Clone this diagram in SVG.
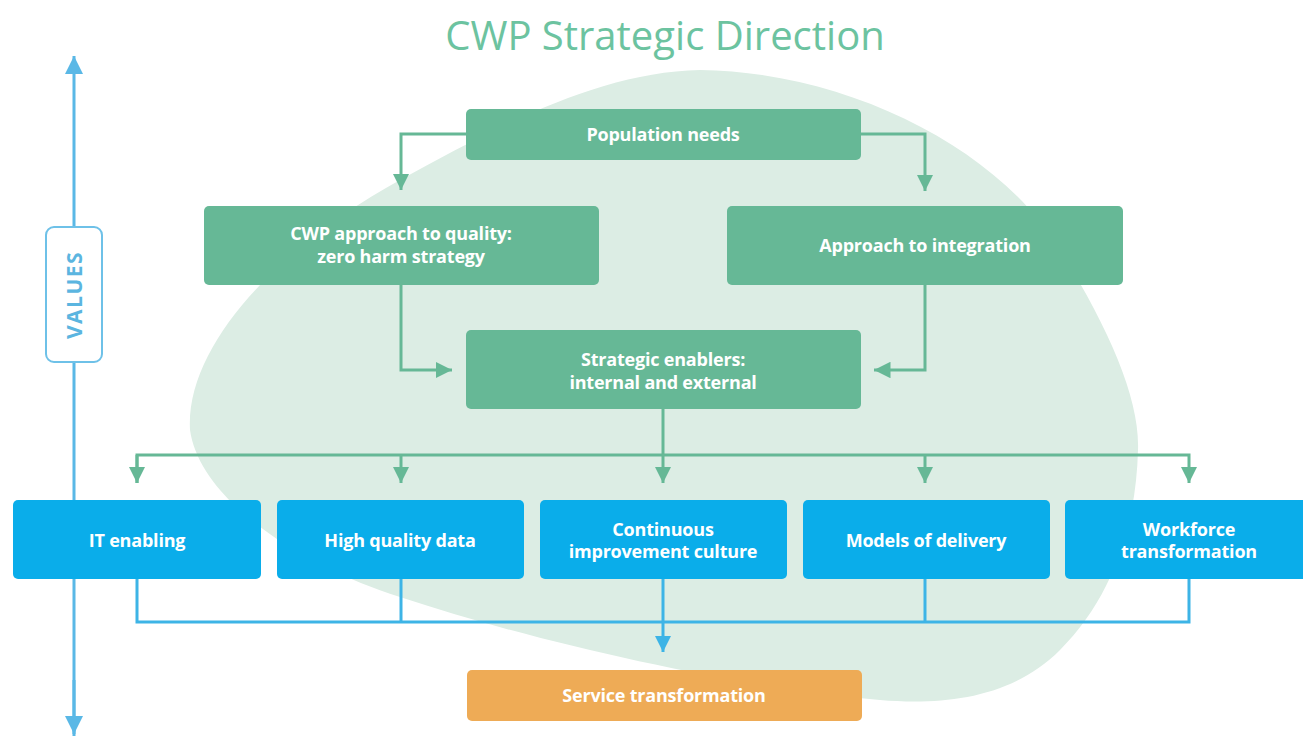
<svg xmlns="http://www.w3.org/2000/svg" width="1303" height="736" viewBox="0 0 1303 736">
<defs>
<style>
.g{fill:#66b896}
.b{fill:#0aadea}
.o{fill:#eeab56}
.t{font-family:"Open Sans","Noto Sans",sans-serif;font-weight:700;font-size:18px;fill:#fff;text-anchor:middle;letter-spacing:-0.2px}
.gc{fill:none;stroke:#66b896;stroke-width:3}
.bc{fill:none;stroke:#3db4e6;stroke-width:3}
</style>
<marker id="ga" viewBox="0 0 10 10" refX="10" refY="5" markerWidth="5.5" markerHeight="5.5" markerUnits="strokeWidth" orient="auto"><path d="M0,0 L10,5 L0,10 Z" fill="#66b896"/></marker>
<marker id="ba" viewBox="0 0 10 10" refX="10" refY="5" markerWidth="5.5" markerHeight="5.5" markerUnits="strokeWidth" orient="auto"><path d="M0,0 L10,5 L0,10 Z" fill="#3db4e6"/></marker>
<marker id="va" viewBox="0 0 10 10" refX="10" refY="5" markerWidth="6" markerHeight="6" markerUnits="strokeWidth" orient="auto"><path d="M0,0 L10,5 L0,10 Z" fill="#5ab8e6"/></marker>
</defs>
<rect width="1303" height="736" fill="#fff"/>
<path id="blob" d="M700,70 C850,72 1000,150 1060,250 C1110,330 1140,400 1138,450 C1136,530 1110,600 1060,650 C1010,700 940,705 880,700 C760,690 560,650 400,597 C300,565 200,500 190,430 C185,340 290,240 400,180 C500,125 600,72 700,70 Z" fill="#dcede4"/>
<text x="665" y="50" font-family="Open Sans, Noto Sans, sans-serif" font-size="40" fill="#6cc3a0" text-anchor="middle">CWP Strategic Direction</text>
<g id="values-axis">
<line x1="74" y1="736" x2="74" y2="56" stroke="#5ab8e6" stroke-width="3" marker-end="url(#va)"/>
<line x1="74" y1="680" x2="74" y2="734" stroke="#5ab8e6" stroke-width="3" marker-end="url(#va)"/>
</g>
<g id="values">
<rect x="46" y="227" width="56" height="135" rx="8" fill="#fff" stroke="#6ec1e8" stroke-width="2"/>
<text transform="translate(82,295) rotate(-90)" font-family="Open Sans, Noto Sans, sans-serif" font-weight="700" font-size="21" fill="#5bb5e0" text-anchor="middle" letter-spacing="1.5">VALUES</text>
</g>
<g id="connectors">
<path class="gc" d="M466,134 H401 V190" marker-end="url(#ga)"/>
<path class="gc" d="M861,134 H925 V191" marker-end="url(#ga)"/>
<path class="gc" d="M401,285 V370 H452" marker-end="url(#ga)"/>
<path class="gc" d="M925,285 V370 H874" marker-end="url(#ga)"/>
<path class="gc" d="M663,409 V483" marker-end="url(#ga)"/>
<path class="gc" d="M137,483 V455 H1189 V483" marker-end="url(#ga)"/>
<path class="gc" d="M137,455 V483" marker-end="url(#ga)"/>
<path class="gc" d="M401,455 V483" marker-end="url(#ga)"/>
<path class="gc" d="M925,455 V483" marker-end="url(#ga)"/>
<path class="bc" d="M137,579 V622 H1189 V579"/>
<path class="bc" d="M401,579 V622"/>
<path class="bc" d="M925,579 V622"/>
<path class="bc" d="M663,579 V652" marker-end="url(#ba)"/>
</g>
<g id="population-needs"><rect class="g" x="466" y="109" width="395" height="51" rx="5"/><text class="t" x="663" y="141">Population needs</text></g>
<g id="cwp-approach"><rect class="g" x="204" y="206" width="395" height="79" rx="5"/><text class="t" x="401" y="240">CWP approach to quality:</text><text class="t" x="401" y="263">zero harm strategy</text></g>
<g id="approach-integration"><rect class="g" x="727" y="206" width="396" height="79" rx="5"/><text class="t" x="925" y="252">Approach to integration</text></g>
<g id="strategic-enablers"><rect class="g" x="466" y="330" width="395" height="79" rx="5"/><text class="t" x="663" y="366">Strategic enablers:</text><text class="t" x="663" y="389">internal and external</text></g>
<g id="it-enabling"><rect class="b" x="13" y="500" width="248" height="79" rx="5"/><text class="t" x="137" y="547">IT enabling</text></g>
<g id="high-quality-data"><rect class="b" x="277" y="500" width="247" height="79" rx="5"/><text class="t" x="400" y="547">High quality data</text></g>
<g id="continuous-improvement"><rect class="b" x="540" y="500" width="247" height="79" rx="5"/><text class="t" x="663" y="536">Continuous</text><text class="t" x="663" y="558">improvement culture</text></g>
<g id="models-of-delivery"><rect class="b" x="803" y="500" width="247" height="79" rx="5"/><text class="t" x="926" y="547">Models of delivery</text></g>
<g id="workforce-transformation"><rect class="b" x="1065" y="500" width="248" height="79" rx="5"/><text class="t" x="1189" y="536">Workforce</text><text class="t" x="1189" y="558">transformation</text></g>
<g id="service-transformation"><rect class="o" x="467" y="670" width="395" height="51" rx="5"/><text class="t" x="664" y="702">Service transformation</text></g>
</svg>
